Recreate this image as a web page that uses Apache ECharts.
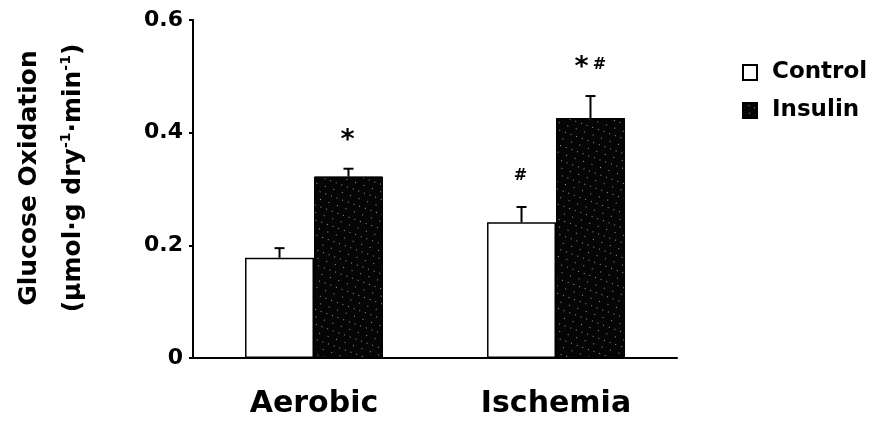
<!DOCTYPE html>
<html>
<head>
<meta charset="utf-8">
<script src="https://cdn.jsdelivr.net/npm/echarts@6/dist/echarts.min.js"></script>
<style>html,body{margin:0;padding:0;background:#fff}#c{width:875px;height:422px}</style>
</head>
<body>
<div id="c"></div>
<script>
var categories = ['Aerobic', 'Ischemia'];
var seriesNames = ['Control', 'Insulin'];
var controlValues = [0.178, 0.241];
var insulinValues = [0.322, 0.426];
var controlErrors = [0.017, 0.027];
var insulinErrors = [0.014, 0.039];
var controlMarks = ['', '#'];
var insulinMarks = ['*', '*#'];
var yTicks = [0, 0.2, 0.4, 0.6];

var FONT = 'DejaVu Sans';
var BAR_FRAC = 0.285;

function errData(vals, errs, marks) {
  return vals.map(function (v, i) { return [i, v, errs[i], marks[i]]; });
}

function markText(ch, x, y) {
  var star = ch === '*';
  return {type: 'text', style: {text: ch, x: x, y: y + (star ? 3 : 0), align: 'center', verticalAlign: 'middle',
    font: 'bold ' + (star ? 27 : 16) + 'px "' + FONT + '"', fill: '#000'}};
}

function makeErr(sign) {
  return function (params, api) {
    var cat = api.value(0), v = api.value(1), e = api.value(2);
    var band = api.size([1, 0])[0];
    var bw = band * BAR_FRAC;
    var base = api.coord([cat, v]);
    var top = api.coord([cat, v + e]);
    var x = base[0] + sign * bw / 2;
    var children = [
      {type: 'line', shape: {x1: x, y1: base[1], x2: x, y2: top[1]}, style: {stroke: '#000', lineWidth: 2}},
      {type: 'line', shape: {x1: x - 5, y1: top[1], x2: x + 5, y2: top[1]}, style: {stroke: '#000', lineWidth: 2}}
    ];
    var mark = String(api.value(3) || '');
    var ty = top[1] - 31;
    if (mark.length === 1) {
      children.push(markText(mark, x - 1, ty));
    } else if (mark.length === 2) {
      children.push(markText(mark.charAt(0), x - 9, ty));
      children.push(markText(mark.charAt(1), x + 9, ty));
    }
    return {type: 'group', children: children};
  };
}

var chart = echarts.init(document.getElementById('c'), null, {renderer: 'canvas'});
chart.setOption({
  animation: false,
  backgroundColor: '#fff',
  grid: {left: 193, right: 198, top: 20, bottom: 64},
  legend: {
    left: 742, top: 61, orient: 'vertical', itemWidth: 14, itemHeight: 15, itemGap: 15, padding: 0,
    icon: 'rect',
    data: seriesNames,
    textStyle: {fontFamily: FONT, fontWeight: 'bold', fontSize: 23, color: '#000', padding: [0, 0, 0, 10]}
  },
  xAxis: {
    type: 'category', data: categories,
    axisLine: {lineStyle: {color: '#000', width: 2}},
    axisTick: {show: false},
    axisLabel: {margin: 31, fontFamily: FONT, fontWeight: 'bold', fontSize: 30, color: '#000'}
  },
  yAxis: {
    type: 'value', min: 0, max: 0.6, interval: 0.2,
    splitLine: {show: false},
    axisLine: {show: true, lineStyle: {color: '#000', width: 2}},
    axisTick: {show: true, length: 4, lineStyle: {color: '#000', width: 2}},
    axisLabel: {margin: 10, fontFamily: FONT, fontWeight: 'bold', fontSize: 22, color: '#000',
      formatter: function (v) { return String(Math.round(v * 10) / 10); }}
  },
  graphic: [{
    type: 'text',
    rotation: Math.PI / 2,
    x: 51, y: 178,
    style: {
      text: '{a|Glucose Oxidation}\n{b|(µmol·g dry}{s|-1}{b|·min}{s|-1}{b|)}',
      align: 'center', verticalAlign: 'middle',
      fill: '#000',
      rich: {
        a: {font: 'bold 25px "' + FONT + '"', lineHeight: 44, fill: '#000'},
        b: {font: 'bold 25px "' + FONT + '"', lineHeight: 44, fill: '#000'},
        s: {font: 'bold 14px "' + FONT + '"', lineHeight: 44, fill: '#000', verticalAlign: 'top', padding: [8, 0, 0, 0]}
      }
    }
  }],
  series: [
    {name: 'Control', type: 'bar', data: controlValues, barWidth: (BAR_FRAC * 100) + '%', barGap: '0%',
      itemStyle: {color: '#fff', borderColor: '#000', borderWidth: 1.5}},
    {name: 'Insulin', type: 'bar', data: insulinValues, barWidth: (BAR_FRAC * 100) + '%', barGap: '0%',
      itemStyle: {color: '#050505', borderColor: '#000', borderWidth: 1,
        decal: {symbol: 'rect', symbolSize: 1, color: 'rgba(255,255,255,0.6)', dashArrayX: [[1, 8], [1, 5]], dashArrayY: [1, 6], rotation: 0.35}}},
    {type: 'custom', renderItem: makeErr(-1), data: errData(controlValues, controlErrors, controlMarks), z: 5, silent: true},
    {type: 'custom', renderItem: makeErr(1), data: errData(insulinValues, insulinErrors, insulinMarks), z: 5, silent: true}
  ]
});
</script>
</body>
</html>
